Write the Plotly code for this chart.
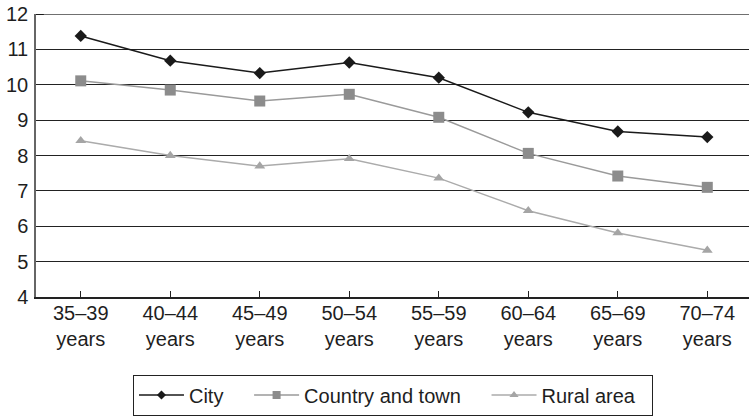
import plotly.graph_objects as go

categories = ["35–39<br>years", "40–44<br>years", "45–49<br>years", "50–54<br>years",
              "55–59<br>years", "60–64<br>years", "65–69<br>years", "70–74<br>years"]
city = [11.38, 10.68, 10.33, 10.63, 10.20, 9.22, 8.68, 8.52]
country_town = [10.11, 9.85, 9.54, 9.73, 9.08, 8.06, 7.42, 7.10]
rural = [8.42, 8.00, 7.70, 7.91, 7.36, 6.44, 5.81, 5.32]
legend_names = ["City", "Country and town", "Rural area"]

font = dict(family="Liberation Sans, Arial, sans-serif", size=20, color="#1e1e1e")
xs = list(range(len(categories)))
pad = "\u00a0\u00a0\u00a0\u2009"

series = [
    (legend_names[0], city, "#1a1a1a", "#1a1a1a", "diamond", 9.5, 7, pad),
    (legend_names[1], country_town, "#9a9a9a", "#8c8c8c", "square", 11, 8, pad),
    (legend_names[2], rural, "#ababab", "#a5a5a5", "triangle-up", 9.5, 8, "\u00a0\u00a0"),
]

fig = go.Figure()
for name, vals, lc, mc, sym, size, lsize, p in series:
    fig.add_trace(go.Scatter(x=xs, y=vals, name=name, mode="lines+markers", showlegend=False,
                             line=dict(color=lc, width=1.5),
                             marker=dict(symbol=sym, size=size, color=mc)))
for name, vals, lc, mc, sym, size, lsize, p in series:
    fig.add_trace(go.Scatter(x=[None], y=[None], name=name + p, mode="lines+markers",
                             line=dict(color=lc, width=1.5),
                             marker=dict(symbol=sym, size=lsize, color=mc)))

fig.add_shape(type="line", xref="paper", yref="y", x0=0, x1=1, y0=12, y1=12,
              line=dict(color="#707070", width=2), layer="above")
fig.add_shape(type="line", xref="paper", yref="y", x0=0, x1=0.011, y0=12, y1=12,
              line=dict(color="#1a1a1a", width=2), layer="above")

fig.update_layout(
    width=749, height=416,
    margin=dict(l=36, r=0, t=14, b=119, autoexpand=False),
    paper_bgcolor="white", plot_bgcolor="white",
    font=font,
    showlegend=True,
    legend=dict(orientation="h", x=0.136, xanchor="left", y=-0.3463, yanchor="middle",
                bordercolor="#222222", borderwidth=1, font=font,
                tracegroupgap=0, itemwidth=45),
)
fig.update_xaxes(range=[-0.5, 7.466], tickmode="array", tickvals=xs, ticktext=categories,
                 showgrid=False, showline=True, linecolor="#222222", linewidth=1.5,
                 ticks="inside", ticklen=6, tickcolor="#222222", tickson="boundaries",
                 zeroline=False, tickfont=font, automargin=False, ticklabelstandoff=-3)
fig.update_yaxes(range=[4, 12], dtick=1, showgrid=True, gridcolor="#222222", gridwidth=1.2,
                 showline=True, linecolor="#666666", linewidth=1.5,
                 ticks="", ticklabelstandoff=2, automargin=False,
                 zeroline=False, tickfont=font)

fig.write_html("out.html", config={"displayModeBar": False},
               post_script="document.body.style.margin='0';document.body.style.overflow='hidden';")
